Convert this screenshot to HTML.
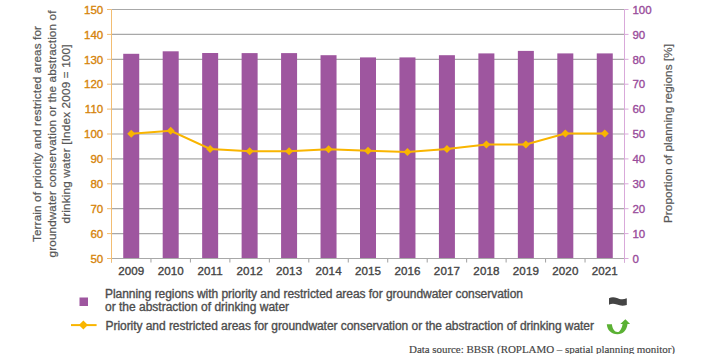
<!DOCTYPE html><html><head><meta charset="utf-8"><style>html,body{margin:0;padding:0;background:#fff;width:707px;height:354px;overflow:hidden}svg{display:block}text{font-family:"Liberation Sans",sans-serif}</style></head><body>
<svg width="707" height="354" viewBox="0 0 707 354">
<line x1="111.5" x2="624.5" y1="9.5" y2="9.5" stroke="#A8A8A8" stroke-width="1.2"/>
<line x1="111.5" x2="624.5" y1="34.4" y2="34.4" stroke="#A8A8A8" stroke-width="1.2"/>
<line x1="111.5" x2="624.5" y1="59.3" y2="59.3" stroke="#A8A8A8" stroke-width="1.2"/>
<line x1="111.5" x2="624.5" y1="84.2" y2="84.2" stroke="#A8A8A8" stroke-width="1.2"/>
<line x1="111.5" x2="624.5" y1="109.1" y2="109.1" stroke="#A8A8A8" stroke-width="1.2"/>
<line x1="111.5" x2="624.5" y1="134.0" y2="134.0" stroke="#A8A8A8" stroke-width="1.2"/>
<line x1="111.5" x2="624.5" y1="158.9" y2="158.9" stroke="#A8A8A8" stroke-width="1.2"/>
<line x1="111.5" x2="624.5" y1="183.8" y2="183.8" stroke="#A8A8A8" stroke-width="1.2"/>
<line x1="111.5" x2="624.5" y1="208.7" y2="208.7" stroke="#A8A8A8" stroke-width="1.2"/>
<line x1="111.5" x2="624.5" y1="233.6" y2="233.6" stroke="#A8A8A8" stroke-width="1.2"/>
<line x1="111.5" x2="624.5" y1="258.5" y2="258.5" stroke="#A8A8A8" stroke-width="1.2"/>
<rect x="123.23" y="53.8" width="16" height="204.7" fill="#9E569F"/>
<rect x="162.69" y="51.3" width="16" height="207.2" fill="#9E569F"/>
<rect x="202.15" y="53.0" width="16" height="205.5" fill="#9E569F"/>
<rect x="241.62" y="53.1" width="16" height="205.4" fill="#9E569F"/>
<rect x="281.08" y="53.1" width="16" height="205.4" fill="#9E569F"/>
<rect x="320.54" y="55.2" width="16" height="203.3" fill="#9E569F"/>
<rect x="360.00" y="57.4" width="16" height="201.1" fill="#9E569F"/>
<rect x="399.46" y="57.4" width="16" height="201.1" fill="#9E569F"/>
<rect x="438.92" y="55.2" width="16" height="203.3" fill="#9E569F"/>
<rect x="478.38" y="53.4" width="16" height="205.1" fill="#9E569F"/>
<rect x="517.85" y="50.9" width="16" height="207.6" fill="#9E569F"/>
<rect x="557.31" y="53.4" width="16" height="205.1" fill="#9E569F"/>
<rect x="596.77" y="53.4" width="16" height="205.1" fill="#9E569F"/>
<line x1="111.50" x2="111.50" y1="258.5" y2="262.5" stroke="#A0A0A0" stroke-width="1"/>
<line x1="150.96" x2="150.96" y1="258.5" y2="262.5" stroke="#A0A0A0" stroke-width="1"/>
<line x1="190.42" x2="190.42" y1="258.5" y2="262.5" stroke="#A0A0A0" stroke-width="1"/>
<line x1="229.88" x2="229.88" y1="258.5" y2="262.5" stroke="#A0A0A0" stroke-width="1"/>
<line x1="269.35" x2="269.35" y1="258.5" y2="262.5" stroke="#A0A0A0" stroke-width="1"/>
<line x1="308.81" x2="308.81" y1="258.5" y2="262.5" stroke="#A0A0A0" stroke-width="1"/>
<line x1="348.27" x2="348.27" y1="258.5" y2="262.5" stroke="#A0A0A0" stroke-width="1"/>
<line x1="387.73" x2="387.73" y1="258.5" y2="262.5" stroke="#A0A0A0" stroke-width="1"/>
<line x1="427.19" x2="427.19" y1="258.5" y2="262.5" stroke="#A0A0A0" stroke-width="1"/>
<line x1="466.65" x2="466.65" y1="258.5" y2="262.5" stroke="#A0A0A0" stroke-width="1"/>
<line x1="506.12" x2="506.12" y1="258.5" y2="262.5" stroke="#A0A0A0" stroke-width="1"/>
<line x1="545.58" x2="545.58" y1="258.5" y2="262.5" stroke="#A0A0A0" stroke-width="1"/>
<line x1="585.04" x2="585.04" y1="258.5" y2="262.5" stroke="#A0A0A0" stroke-width="1"/>
<line x1="624.50" x2="624.50" y1="258.5" y2="262.5" stroke="#A0A0A0" stroke-width="1"/>
<line x1="111.5" x2="624.5" y1="258.5" y2="258.5" stroke="#A8A8A8" stroke-width="1.2"/>
<line x1="111.5" x2="111.5" y1="9.5" y2="262.5" stroke="#F2BD72" stroke-width="1"/>
<g font-size="11.5" fill="#D6840A" stroke="#D6840A" stroke-width="0.35" text-anchor="end">
<text x="103.2" y="13.7">150</text>
<text x="103.2" y="38.6">140</text>
<text x="103.2" y="63.5">130</text>
<text x="103.2" y="88.4">120</text>
<text x="103.2" y="113.3">110</text>
<text x="103.2" y="138.2">100</text>
<text x="103.2" y="163.1">90</text>
<text x="103.2" y="188.0">80</text>
<text x="103.2" y="212.9">70</text>
<text x="103.2" y="237.8">60</text>
<text x="103.2" y="262.7">50</text>
</g>
<line x1="107" x2="111.5" y1="9.5" y2="9.5" stroke="#F2BD72" stroke-width="1"/>
<line x1="107" x2="111.5" y1="34.4" y2="34.4" stroke="#F2BD72" stroke-width="1"/>
<line x1="107" x2="111.5" y1="59.3" y2="59.3" stroke="#F2BD72" stroke-width="1"/>
<line x1="107" x2="111.5" y1="84.2" y2="84.2" stroke="#F2BD72" stroke-width="1"/>
<line x1="107" x2="111.5" y1="109.1" y2="109.1" stroke="#F2BD72" stroke-width="1"/>
<line x1="107" x2="111.5" y1="134.0" y2="134.0" stroke="#F2BD72" stroke-width="1"/>
<line x1="107" x2="111.5" y1="158.9" y2="158.9" stroke="#F2BD72" stroke-width="1"/>
<line x1="107" x2="111.5" y1="183.8" y2="183.8" stroke="#F2BD72" stroke-width="1"/>
<line x1="107" x2="111.5" y1="208.7" y2="208.7" stroke="#F2BD72" stroke-width="1"/>
<line x1="107" x2="111.5" y1="233.6" y2="233.6" stroke="#F2BD72" stroke-width="1"/>
<line x1="107" x2="111.5" y1="258.5" y2="258.5" stroke="#F2BD72" stroke-width="1"/>
<line x1="624.5" x2="624.5" y1="9.5" y2="262.5" stroke="#D9A9DA" stroke-width="1"/>
<line x1="624.5" x2="628.5" y1="9.5" y2="9.5" stroke="#D9A9DA" stroke-width="1"/>
<line x1="624.5" x2="628.5" y1="34.4" y2="34.4" stroke="#D9A9DA" stroke-width="1"/>
<line x1="624.5" x2="628.5" y1="59.3" y2="59.3" stroke="#D9A9DA" stroke-width="1"/>
<line x1="624.5" x2="628.5" y1="84.2" y2="84.2" stroke="#D9A9DA" stroke-width="1"/>
<line x1="624.5" x2="628.5" y1="109.1" y2="109.1" stroke="#D9A9DA" stroke-width="1"/>
<line x1="624.5" x2="628.5" y1="134.0" y2="134.0" stroke="#D9A9DA" stroke-width="1"/>
<line x1="624.5" x2="628.5" y1="158.9" y2="158.9" stroke="#D9A9DA" stroke-width="1"/>
<line x1="624.5" x2="628.5" y1="183.8" y2="183.8" stroke="#D9A9DA" stroke-width="1"/>
<line x1="624.5" x2="628.5" y1="208.7" y2="208.7" stroke="#D9A9DA" stroke-width="1"/>
<line x1="624.5" x2="628.5" y1="233.6" y2="233.6" stroke="#D9A9DA" stroke-width="1"/>
<line x1="624.5" x2="628.5" y1="258.5" y2="258.5" stroke="#D9A9DA" stroke-width="1"/>
<g font-size="11.5" fill="#994C9B" stroke="#994C9B" stroke-width="0.35">
<text x="632.4" y="13.7">100</text>
<text x="632.4" y="38.6">90</text>
<text x="632.4" y="63.5">80</text>
<text x="632.4" y="88.4">70</text>
<text x="632.4" y="113.3">60</text>
<text x="632.4" y="138.2">50</text>
<text x="632.4" y="163.1">40</text>
<text x="632.4" y="188.0">30</text>
<text x="632.4" y="212.9">20</text>
<text x="632.4" y="237.8">10</text>
<text x="632.4" y="262.7">0</text>
</g>
<g font-size="11.6" fill="#444" stroke="#444" stroke-width="0.35" text-anchor="middle" letter-spacing="0.1">
<text x="131.28" y="275.4">2009</text>
<text x="170.74" y="275.4">2010</text>
<text x="210.20" y="275.4">2011</text>
<text x="249.67" y="275.4">2012</text>
<text x="289.13" y="275.4">2013</text>
<text x="328.59" y="275.4">2014</text>
<text x="368.05" y="275.4">2015</text>
<text x="407.51" y="275.4">2016</text>
<text x="446.97" y="275.4">2017</text>
<text x="486.43" y="275.4">2018</text>
<text x="525.90" y="275.4">2019</text>
<text x="565.36" y="275.4">2020</text>
<text x="604.82" y="275.4">2021</text>
</g>
<polyline points="131.23,133.7 170.69,130.8 210.15,149.0 249.62,151.2 289.08,151.2 328.54,149.2 368.00,150.7 407.46,152.1 446.92,149.0 486.38,144.4 525.85,144.4 565.31,133.6 604.77,133.6" fill="none" stroke="#F9B500" stroke-width="2"/>
<path d="M131.23 129.70L135.23 133.70L131.23 137.70L127.23 133.70Z" fill="#F9B500"/>
<path d="M170.69 126.80L174.69 130.80L170.69 134.80L166.69 130.80Z" fill="#F9B500"/>
<path d="M210.15 145.00L214.15 149.00L210.15 153.00L206.15 149.00Z" fill="#F9B500"/>
<path d="M249.62 147.20L253.62 151.20L249.62 155.20L245.62 151.20Z" fill="#F9B500"/>
<path d="M289.08 147.20L293.08 151.20L289.08 155.20L285.08 151.20Z" fill="#F9B500"/>
<path d="M328.54 145.20L332.54 149.20L328.54 153.20L324.54 149.20Z" fill="#F9B500"/>
<path d="M368.00 146.70L372.00 150.70L368.00 154.70L364.00 150.70Z" fill="#F9B500"/>
<path d="M407.46 148.10L411.46 152.10L407.46 156.10L403.46 152.10Z" fill="#F9B500"/>
<path d="M446.92 145.00L450.92 149.00L446.92 153.00L442.92 149.00Z" fill="#F9B500"/>
<path d="M486.38 140.40L490.38 144.40L486.38 148.40L482.38 144.40Z" fill="#F9B500"/>
<path d="M525.85 140.40L529.85 144.40L525.85 148.40L521.85 144.40Z" fill="#F9B500"/>
<path d="M565.31 129.60L569.31 133.60L565.31 137.60L561.31 133.60Z" fill="#F9B500"/>
<path d="M604.77 129.60L608.77 133.60L604.77 137.60L600.77 133.60Z" fill="#F9B500"/>
<g transform="translate(0,134) rotate(-90)" fill="#585858" stroke="#585858" stroke-width="0.22" font-size="11.7" text-anchor="middle">
<text x="0" y="41.1" textLength="216" lengthAdjust="spacing">Terrain of priority and restricted areas for</text>
<text x="0" y="56.4" textLength="246.8" lengthAdjust="spacing">groundwater conservation or the abstraction of</text>
<text x="0" y="70" textLength="179" lengthAdjust="spacing">drinking water [Index 2009 = 100]</text>
</g>
<g transform="translate(0,133.5) rotate(-90)" fill="#585858" stroke="#585858" stroke-width="0.22" font-size="11.7" text-anchor="middle"><text x="0" y="672.3" textLength="179" lengthAdjust="spacing">Proportion of planning regions [%]</text></g>
<rect x="79.5" y="297.5" width="8.5" height="8.5" fill="#9E569F"/>
<g font-size="12" fill="#4D4D4D" stroke="#4D4D4D" stroke-width="0.35">
<text x="105" y="297.5" textLength="418" lengthAdjust="spacing">Planning regions with priority and restricted areas for groundwater conservation</text>
<text x="105" y="311.4">or the abstraction of drinking water</text>
<text x="105.5" y="329.7" textLength="488.5" lengthAdjust="spacing">Priority and restricted areas for groundwater conservation or the abstraction of drinking water</text>
</g>
<line x1="71" x2="96.6" y1="325.1" y2="325.1" stroke="#F9B500" stroke-width="2"/>
<path d="M83.4 320.6L87.9 325.1L83.4 329.6L78.9 325.1Z" fill="#F9B500"/>
<path d="M609 298.3 C611 297 614 296.8 617 298 C620 299.4 623 300 626.8 298.2 L626.8 305 C623 306.2 620 305.8 617 304.6 C614 303.4 611 303.6 609 304.8 Z" fill="#444"/>
<path d="M606.8 324.3 L611.9 324.3 C612.5 329 614.5 332 617.5 332 C620 332 622 328 622.6 323.9 L620.3 323.9 L625.4 319.2 L630.1 323.9 L627.5 323.9 C626.8 330 623 334.2 617.5 334.2 C611 334.2 607.2 330 606.8 324.3 Z" fill="#5BB134"/>
<text x="409" y="352.6" font-size="11" fill="#444" stroke="#444" stroke-width="0.15" textLength="266" lengthAdjust="spacing" style="font-family:'Liberation Serif',serif">Data source: BBSR (ROPLAMO – spatial planning monitor)</text>
</svg></body></html>
